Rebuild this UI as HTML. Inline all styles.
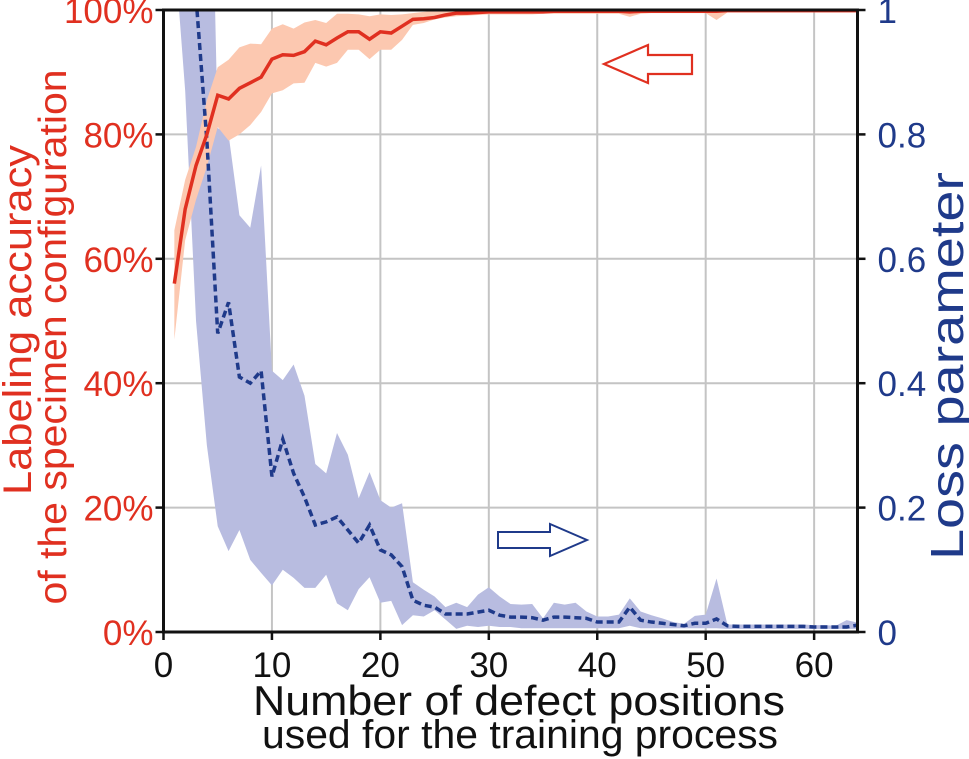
<!DOCTYPE html>
<html><head><meta charset="utf-8"><style>
html,body{margin:0;padding:0;background:#fff;}
svg{display:block;font-family:"Liberation Sans",Arial,sans-serif;}
</style></head><body>
<svg id="chart" width="969" height="759" viewBox="0 0 969 759" xmlns="http://www.w3.org/2000/svg">
<g id="grid"></g>
<g id="bands"></g>
<g id="lines"></g>
<g id="axes"></g>
<polygon points="604,64 648,45 648,55 692,55 692,74 648,74 648,83" fill="none" stroke="#e03020" stroke-width="2.2"/>
<polygon points="587,540 550,524 550,532 498,532 498,548 550,548 550,556" fill="none" stroke="#1f3a8a" stroke-width="2"/>
<text transform="translate(31,320) rotate(-90)" text-anchor="middle" font-size="40" textLength="350" lengthAdjust="spacingAndGlyphs" fill="#e03020">Labeling accuracy</text>
<text transform="translate(66,337) rotate(-90)" text-anchor="middle" font-size="39" textLength="535" lengthAdjust="spacingAndGlyphs" fill="#e03020">of the specimen configuration</text>
<text transform="translate(963,366) rotate(-90)" text-anchor="middle" font-size="46" textLength="388" lengthAdjust="spacingAndGlyphs" fill="#1f3a8a">Loss parameter</text>
<text x="519" y="715" text-anchor="middle" font-size="42" textLength="532" lengthAdjust="spacingAndGlyphs" fill="#111">Number of defect positions</text>
<text x="520" y="748" text-anchor="middle" font-size="40" textLength="516" lengthAdjust="spacingAndGlyphs" fill="#111">used for the training process</text>
</svg>
<script>
const xs = [];for(let i=1;i<=64;i++)xs.push(i);
const accMean = [56,68,75,80,86.3,85.7,87.4,88.3,89.2,92.1,92.8,92.7,93.3,95.0,94.4,95.5,96.5,96.5,95.3,96.5,96.3,97.4,98.5,98.6,98.8,99.2,99.5,99.5,99.6,99.7,99.7,99.7,99.7,99.7,99.7,99.8,99.8,99.8,99.8,99.8,99.8,99.8,99.7,99.8,99.8,99.8,99.8,99.8,99.8,99.8,99.8,99.9,99.9,99.9,99.9,99.9,99.9,99.9,99.9,99.9,99.9,99.9,99.9,99.9];
const accUpper = [64.6,72.7,78,85.5,90.8,92,94,94.6,94.5,97,97.7,97,98,98.4,97.9,99.4,99.4,99.3,99,99.3,99.2,99.3,99.5,99.7,99.9,100,100,100,100,100,100,100,100,100,100,100,100,100,100,100,100,100,100,100,100,100,100,100,100,100,100,100,100,100,100,100,100,100,100,100,100,100,100,100];
const accLower = [47,63,69.5,74.8,81.2,79,80,81.5,83.6,86.6,87.1,88.2,88.3,91.5,90.9,91.5,93.6,93.6,92.1,93.6,93.6,95.2,97.6,97.9,98.5,98.8,99,99.1,99.2,99.3,99.3,99.3,99.3,99.3,99.4,99.4,99.4,99.4,99.4,99.4,99.4,99.4,98.9,99.4,99.5,99.5,99.5,99.5,99.5,99.5,98.4,99.6,99.6,99.6,99.6,99.6,99.6,99.6,99.6,99.6,99.6,99.6,99.6,99.6];
const lossMean = [1.6,1.3,1.02,0.79,0.48,0.53,0.41,0.40,0.42,0.25,0.31,0.255,0.217,0.172,0.177,0.185,0.164,0.143,0.172,0.132,0.124,0.105,0.051,0.043,0.040,0.029,0.029,0.029,0.032,0.035,0.027,0.024,0.024,0.023,0.019,0.024,0.024,0.023,0.022,0.016,0.016,0.016,0.04,0.019,0.016,0.014,0.012,0.010,0.014,0.014,0.021,0.010,0.009,0.009,0.009,0.009,0.009,0.009,0.009,0.008,0.008,0.008,0.008,0.011];
const lossUpper = [2,2,2,1.6,0.81,0.80,0.67,0.65,0.75,0.42,0.405,0.43,0.38,0.27,0.255,0.32,0.285,0.215,0.257,0.212,0.2,0.207,0.08,0.068,0.057,0.04,0.047,0.04,0.06,0.072,0.057,0.045,0.044,0.045,0.022,0.047,0.044,0.047,0.033,0.025,0.025,0.028,0.054,0.033,0.027,0.022,0.016,0.013,0.026,0.028,0.086,0.012,0.012,0.012,0.012,0.012,0.012,0.012,0.012,0.011,0.011,0.01,0.019,0.015];
const lossLower = [1.1,0.87,0.5,0.3,0.17,0.13,0.164,0.116,0.095,0.075,0.1,0.087,0.071,0.071,0.092,0.046,0.035,0.069,0.088,0.047,0.05,0.011,0.027,0.025,0.035,0.02,0.005,0.01,0.008,0.01,0.008,0.008,0.006,0.006,0.006,0.006,0.006,0.006,0.006,0.006,0.006,0.006,0.01,0.006,0.006,0.006,0.006,0.006,0.006,0.006,0.006,0.005,0.005,0.005,0.005,0.005,0.005,0.005,0.005,0.005,0.005,0.005,0.005,0.005];
const xTicks = [0,10,20,30,40,50,60];
const yTicks = [0,20,40,60,80,100];
const y2Ticks = [0,0.2,0.4,0.6,0.8,1];
const y2Labels = ["0","0.2","0.4","0.6","0.8","1"];

const L=163.5,R=857.5,T=10,B=632;
const X=v=>L+(v/64)*(R-L);
const YA=v=>B-(v/100)*(B-T);
const YL=v=>B-v*(B-T);
const NS="http://www.w3.org/2000/svg";
function mk(tag,parent,attrs){const e=document.createElementNS(NS,tag);for(const k in attrs)e.setAttribute(k,attrs[k]);document.getElementById(parent).appendChild(e);return e;}

const defs=document.createElementNS(NS,'defs');
defs.innerHTML='<clipPath id="pc"><rect x="'+L+'" y="'+T+'" width="'+(R-L)+'" height="'+(B-T)+'"/></clipPath>';
document.getElementById('chart').prepend(defs);
document.getElementById('bands').setAttribute('clip-path','url(#pc)');
document.getElementById('lines').setAttribute('clip-path','url(#pc)');

xTicks.forEach(t=>{if(t===0)return;const g=mk('line','grid',{x1:X(t),x2:X(t),y1:T,y2:B,stroke:'#c4c4c4','stroke-width':2});

});
yTicks.forEach(t=>{if(t===0||t===100)return;const g=mk('line','grid',{x1:L,x2:R,y1:YA(t),y2:YA(t),stroke:'#c4c4c4','stroke-width':2});

});

function band(up,lo,yf){let p=xs.map((x,i)=>X(x)+','+yf(up[i]));for(let i=xs.length-1;i>=0;i--)p.push(X(xs[i])+','+yf(lo[i]));return p.join(' ');}
const lb=mk('polygon','bands',{points:band(lossUpper,lossLower,YL),fill:'#b8bce0'});


const ab=mk('polygon','bands',{points:band(accUpper,accLower,YA),fill:'#fcc8b0'});



const ll=mk('polyline','lines',{points:xs.map((x,i)=>X(x)+','+YL(lossMean[i])).join(' '),fill:'none',stroke:'#1f3a8a','stroke-width':3.5,'stroke-dasharray':'7,4'});


const al=mk('polyline','lines',{points:xs.map((x,i)=>X(x)+','+YA(accMean[i])).join(' '),fill:'none',stroke:'#e03020','stroke-width':3.5});



const fr=mk('rect','axes',{x:L,y:T,width:R-L,height:B-T,fill:'none',stroke:'#111','stroke-width':3});


xTicks.forEach(t=>{
 mk('line','axes',{x1:X(t),x2:X(t),y1:B,y2:B+8,stroke:'#111','stroke-width':2.5});
 const tx=mk('text','axes',{x:X(t),y:B+45,'text-anchor':'middle','font-size':35,fill:'#111'});
 tx.textContent=t;
 
 
});
yTicks.forEach(t=>{
 mk('line','axes',{x1:L-8,x2:L,y1:YA(t),y2:YA(t),stroke:'#111','stroke-width':2.5});
 const tx=mk('text','axes',{x:L-10,y:YA(t)+13,'text-anchor':'end','font-size':35,fill:'#e03020'});
 tx.textContent=t+'%';
 
 
});
y2Ticks.forEach((t,i)=>{
 mk('line','axes',{x1:R,x2:R+8,y1:YL(t),y2:YL(t),stroke:'#111','stroke-width':2.5});
 const tx=mk('text','axes',{x:R+20,y:YL(t)+13,'text-anchor':'start','font-size':35,fill:'#1f3a8a'});
 tx.textContent=y2Labels[i];
 
 
});
</script>
</body></html>
